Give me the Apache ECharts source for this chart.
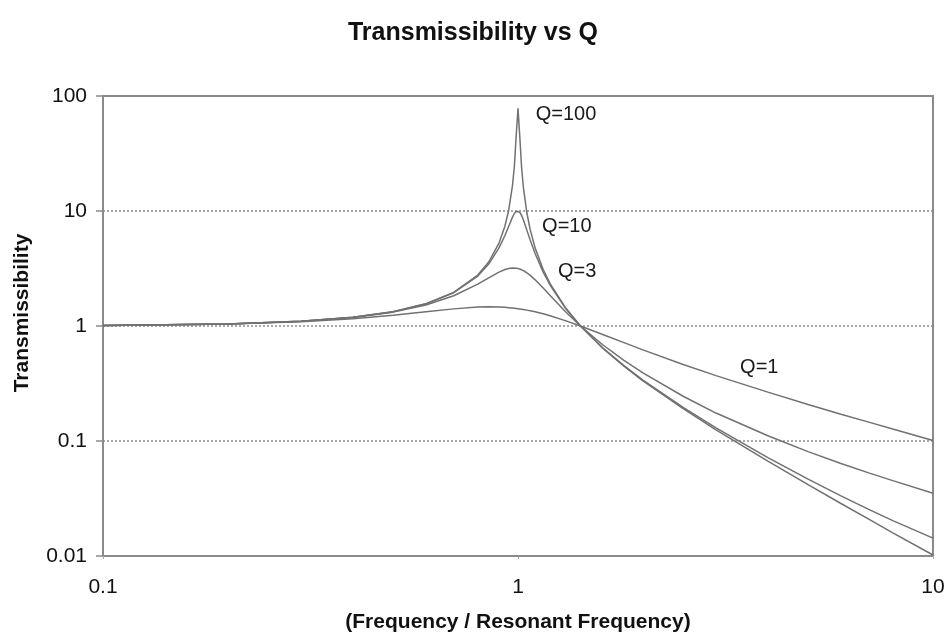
<!DOCTYPE html>
<html>
<head>
<meta charset="utf-8">
<title>Transmissibility vs Q</title>
<script src="https://cdn.jsdelivr.net/npm/echarts@6/dist/echarts.min.js"></script>
<style>
  html, body { margin: 0; padding: 0; background: #fff; }
  #chart { width: 946px; height: 635px; }
</style>
</head>
<body>
<div id="chart"></div>
<script>
// frequency ratio (f / fn)
const freq = [0.1, 0.2, 0.3, 0.4, 0.5, 0.6, 0.7, 0.8, 0.85, 0.9, 0.93, 0.95, 0.97, 0.98, 0.99, 1.0,
  1.01, 1.02, 1.03, 1.05, 1.07, 1.1, 1.15, 1.2, 1.3, 1.414, 1.6, 1.8, 2, 2.5, 3, 4, 5, 6, 7, 8, 10]

// transmissibility
const q1 = [1.010, 1.040, 1.090, 1.158, 1.240, 1.329, 1.409, 1.460, 1.468, 1.463, 1.453, 1.444, 1.434, 1.428, 1.421, 1.414,
  1.407, 1.399, 1.391, 1.374, 1.356, 1.328, 1.276, 1.222, 1.114, 1.0, 0.844, 0.717, 0.620, 0.463, 0.370, 0.266, 0.208, 0.171, 0.146, 0.127, 0.101]
const q3 = [1.010, 1.042, 1.098, 1.186, 1.320, 1.521, 1.831, 2.310, 2.621, 2.940, 3.096, 3.166, 3.198, 3.197, 3.185, 3.162,
  3.129, 3.085, 3.032, 2.905, 2.758, 2.521, 2.138, 1.811, 1.338, 1.0, 0.687, 0.503, 0.391, 0.245, 0.175, 0.111, 0.0808, 0.0638, 0.0528, 0.0452, 0.0351]
const q10 = [1.010, 1.042, 1.099, 1.190, 1.332, 1.559, 1.947, 2.720, 3.458, 4.776, 6.123, 7.379, 8.845, 9.506, 9.951, 10.05,
  9.760, 9.162, 8.401, 6.853, 5.583, 4.244, 2.940, 2.208, 1.436, 1.0, 0.646, 0.452, 0.339, 0.196, 0.130, 0.0718, 0.0466, 0.0333, 0.0254, 0.0203, 0.0143]
const q100 = [1.010, 1.042, 1.099, 1.191, 1.333, 1.562, 1.961, 2.777, 3.602, 5.257, 7.385, 10.21, 16.70, 24.51, 44.99, 78,
  44.46, 24.00, 16.19, 9.705, 6.883, 4.755, 3.099, 2.272, 1.449, 1.0, 0.641, 0.447, 0.333, 0.191, 0.125, 0.0667, 0.0417, 0.0286, 0.0209, 0.0159, 0.0102]

const seriesNames = ['Q=1', 'Q=3', 'Q=10', 'Q=100']
const seriesValues = [q1, q3, q10, q100]
// where each curve label sits, in data units [f, T]
const labelAt = [[3.42, 0.44], [1.245, 2.98], [1.14, 7.4], [1.10, 69]]

const font = '"Liberation Sans", Arial, sans-serif'
const lineColor = '#717171'

const chart = echarts.init(document.getElementById('chart'))

const series = seriesValues.map((vals, i) => {
  return {
    name: seriesNames[i],
    type: 'line',
    showSymbol: false,
    smooth: false,
    silent: true,
    data: freq.map((f, j) => [f, vals[j]]),
    lineStyle: { color: lineColor, width: 1.5 },
    itemStyle: { color: lineColor },
    markPoint: {
      symbol: 'circle',
      symbolSize: 1,
      itemStyle: { color: 'transparent' },
      label: {
        show: true,
        position: 'right',
        distance: 0,
        formatter: seriesNames[i],
        color: '#1a1a1a',
        fontFamily: font,
        fontSize: 20
      },
      data: [{ coord: labelAt[i] }]
    }
  }
})

const option = {
  animation: false,
  backgroundColor: '#fff',
  title: {
    text: 'Transmissibility vs Q',
    left: 'center',
    top: 16,
    textStyle: { fontFamily: font, fontSize: 25, fontWeight: 'bold', color: '#111' }
  },
  grid: {
    left: 103,
    right: 13,
    top: 96,
    bottom: 79,
    outerBoundsMode: 'none',
    containLabel: false,
    show: true,
    borderColor: '#8a8a8a',
    borderWidth: 2
  },
  xAxis: {
    type: 'log',
    logBase: 10,
    min: 0.1,
    max: 10,
    name: '(Frequency / Resonant Frequency)',
    nameLocation: 'middle',
    nameGap: 56,
    nameTextStyle: { fontFamily: font, fontSize: 21, fontWeight: 'bold', color: '#111' },
    axisLine: { lineStyle: { color: '#8a8a8a', width: 2 } },
    axisTick: { show: true, length: 3, lineStyle: { color: '#aaa' } },
    axisLabel: { fontFamily: font, fontSize: 21, color: '#111', margin: 21 },
    splitLine: { show: false },
    minorTick: { show: false }
  },
  yAxis: {
    type: 'log',
    logBase: 10,
    min: 0.01,
    max: 100,
    name: 'Transmissibility',
    nameLocation: 'middle',
    nameGap: 70,
    nameRotate: 90,
    nameTextStyle: { fontFamily: font, fontSize: 21, fontWeight: 'bold', color: '#111', padding: [0, 0, 0, 26] },
    axisLine: { show: true, lineStyle: { color: '#8a8a8a', width: 2 } },
    axisTick: { show: true, length: 7, lineStyle: { color: '#8a8a8a', width: 1.5 } },
    axisLabel: { fontFamily: font, fontSize: 21, color: '#111', margin: 16 },
    splitLine: { show: true, lineStyle: { color: '#8a8a8a', type: [2, 2], width: 1.5 } }
  },
  series: series
}

chart.setOption(option)
</script>
</body>
</html>
